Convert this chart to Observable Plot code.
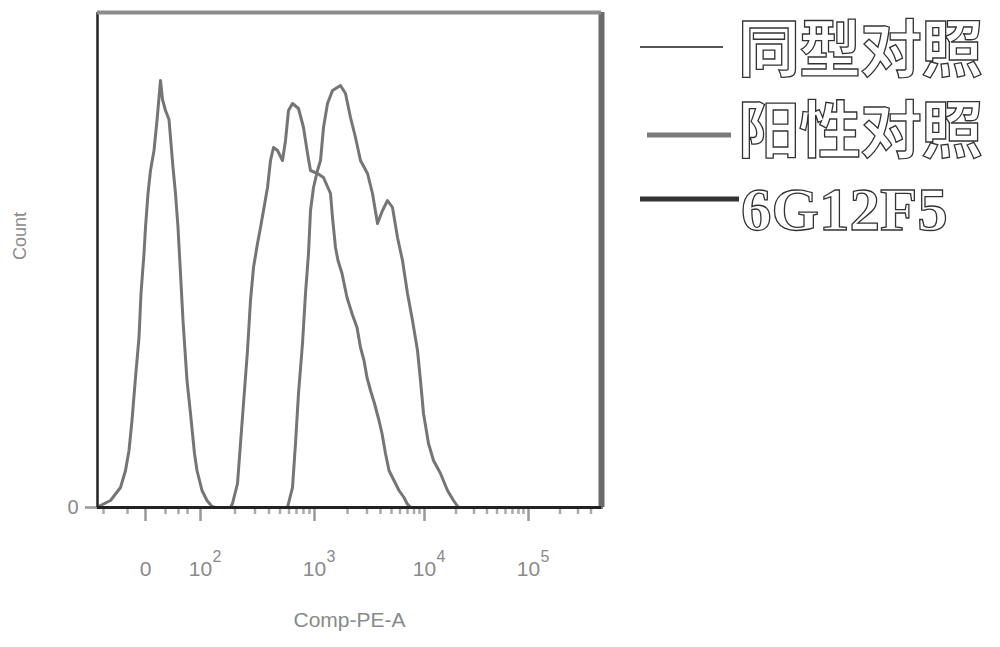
<!DOCTYPE html>
<html>
<head>
<meta charset="utf-8">
<script src="https://cdn.jsdelivr.net/npm/d3@7"></script>
<script src="https://cdn.jsdelivr.net/npm/@observablehq/plot@0.6"></script>
<style>
html, body { margin: 0; padding: 0; background: #fff; }
#wrap { position: relative; width: 1000px; height: 647px; }
#legend { position: absolute; left: 0; top: 0; pointer-events: none; }
</style>
</head>
<body>
<div id="wrap"></div>
<script>
// ---- data (x = display channel, y = count) ----
const xDomain = [0, 1008];
const yDomain = [0, 247.5];

const seriesNames = ["同型对照", "阳性对照", "6G12F5"];

const isoCh = [0, 6, 26, 46, 56, 63, 69, 76, 83, 87, 93, 96, 101, 106, 113, 119, 123, 126, 130, 136, 143, 151, 156, 161, 166, 171, 179, 186, 194, 199, 209, 219, 229, 236, 1008];
const isoCount = [0, 1, 3.5, 10, 18.5, 28.5, 43.5, 65, 85, 107, 127, 140, 157, 168.5, 178.5, 193.5, 205, 213.5, 204, 198.5, 194, 170, 157, 140, 117, 93.5, 63.5, 47, 27, 18.5, 8.5, 3.5, 0.5, 0, 0];

const posCh = [0, 380, 390, 396, 402, 410, 416, 422, 426, 432, 440, 446, 452, 460, 470, 486, 496, 506, 516, 526, 540, 550, 560, 570, 580, 590, 600, 610, 620, 630, 640, 646, 652, 662, 672, 686, 700, 712, 722, 1008];
const posCount = [0, 0, 10, 32, 57, 82, 107, 127, 148.5, 160, 168.5, 173.5, 190, 202, 208.5, 211, 207, 195, 185, 173.5, 167, 157, 142, 148.5, 153.5, 150, 135, 123.5, 107, 93.5, 78.5, 63.5, 47, 32, 23.5, 17, 8.5, 3.5, 0, 0];

const sampleCh = [0, 266, 270, 280, 286, 292, 300, 306, 312, 320, 326, 332, 340, 346, 352, 360, 370, 376, 382, 390, 402, 412, 420, 426, 440, 452, 466, 470, 476, 481, 489, 499, 509, 519, 526, 533, 539, 546, 554, 563, 569, 576, 583, 593, 603, 613, 619, 626, 1008];
const sampleCount = [0, 0, 2, 12, 32, 52, 78.5, 103.5, 120, 132, 140, 148.5, 160, 173.5, 180, 178.5, 173.5, 183.5, 198.5, 202, 199.5, 190, 177, 168.5, 167, 165, 157, 145, 130, 123.5, 117, 105, 97, 90, 80, 73.5, 65, 58.5, 52, 43.5, 37, 27, 18.5, 13.5, 8.5, 5, 2, 0, 0];

const majorTicks = [96, 206, 434, 654, 862];
const tickBase = ["0", "10", "10", "10", "10"];
const tickExp = ["", "2", "3", "4", "5"];
const minorTicks = [12, 60, 136, 162, 180, 275, 315, 343, 365, 383, 398, 412, 424, 500, 539, 566, 588, 605, 620, 633, 644, 717, 753, 779, 799, 816, 830, 842, 852, 925, 961, 987];
const yTicks = [0];

const xLabel = "Comp-PE-A";
const yLabel = "Count";

// ---- build table ----
const series = [
  {name: seriesNames[0], ch: isoCh, count: isoCount},
  {name: seriesNames[1], ch: posCh, count: posCount},
  {name: seriesNames[2], ch: sampleCh, count: sampleCount}
];
const rows = series.flatMap(s => s.ch.map((c, i) => ({series: s.name, ch: c, count: s.count[i]})));

const grey = "#8a8a8a";

const chart = Plot.plot({
  width: 1000,
  height: 647,
  marginLeft: 97,
  marginRight: 399,
  marginTop: 12,
  marginBottom: 140,
  style: {fontFamily: "'Liberation Sans', Arial, sans-serif", background: "#fff"},
  x: {domain: xDomain, axis: null},
  y: {domain: yDomain, axis: null},
  marks: [
    Plot.line(rows, {x: "ch", y: "count", z: "series", stroke: "#757575", strokeWidth: 3, strokeLinejoin: "round"}),
    Plot.axisX(minorTicks, {tickSize: 7, stroke: "#aaa", strokeWidth: 2.5, tickFormat: () => "", label: null}),
    Plot.axisX(majorTicks, {tickSize: 14, stroke: "#999", strokeWidth: 2.5, tickFormat: () => "", label: null}),
    Plot.axisY(yTicks, {tickSize: 12, tickPadding: 7, fontSize: 20, fill: grey, stroke: "#999", strokeWidth: 2.5, label: null}),
    Plot.ruleX([xDomain[0]], {stroke: "#222", strokeWidth: 2.5}),
    Plot.ruleX([xDomain[1]], {stroke: "#6a6a6a", strokeWidth: 6}),
    Plot.ruleY([yDomain[1]], {stroke: "#8c8c8c", strokeWidth: 4}),
    Plot.ruleY([yDomain[0]], {stroke: "#222", strokeWidth: 3}),
    Plot.text(majorTicks, {x: d => d, text: (d, i) => tickBase[i], frameAnchor: "bottom", dy: 68, fontSize: 21, fill: grey}),
    Plot.text(majorTicks, {x: d => d, text: (d, i) => tickExp[i], frameAnchor: "bottom", dy: 54, dx: 12, textAnchor: "start", fontSize: 16, fill: grey}),
    Plot.text([xLabel], {frameAnchor: "bottom", dy: 119, fontSize: 21, fill: grey}),
    Plot.text([yLabel], {frameAnchor: "left", dx: -77, rotate: -90, fontSize: 18, fill: grey})
  ]
});
document.getElementById("wrap").appendChild(chart);

// ---- legend (right side) ----
const lg = d3.select("#wrap").append("svg").attr("id", "legend").attr("width", 1000).attr("height", 647);
const legendStyle = [
  {x1: 640, x2: 723, y: 47, stroke: "#555", sw: 2, tx: 738, ty: 72, font: "'Noto Sans CJK SC'", size: 62, ls: -1},
  {x1: 647, x2: 731, y: 135, stroke: "#7a7a7a", sw: 5, tx: 738, ty: 153, font: "'Noto Sans CJK SC'", size: 62, ls: -1},
  {x1: 640, x2: 739, y: 199, stroke: "#333", sw: 5, tx: 741, ty: 230, font: "'Liberation Serif', serif", size: 61, ls: 0}
];
seriesNames.forEach((name, i) => {
  const s = legendStyle[i];
  lg.append("line").attr("x1", s.x1).attr("x2", s.x2).attr("y1", s.y).attr("y2", s.y)
    .attr("stroke", s.stroke).attr("stroke-width", s.sw);
  lg.append("text").attr("x", s.tx).attr("y", s.ty).text(name)
    .attr("font-family", s.font).attr("font-size", s.size).attr("font-weight", 700)
    .attr("letter-spacing", s.ls)
    .attr("fill", "#fff").attr("stroke", "#333").attr("stroke-width", 1.3);
});
</script>
</body>
</html>
